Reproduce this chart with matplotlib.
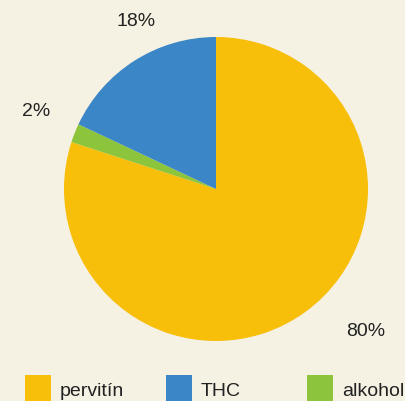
import matplotlib
matplotlib.use("Agg")
import matplotlib.pyplot as plt
from matplotlib.patches import Rectangle

LABELS = ["pervitín", "alkohol", "THC"]
SHARES = [80, 2, 18]
COLORS = ["#f7bf0a", "#8cc43c", "#3b86c6"]
PCT_TEXT = ["80%", "2%", "18%"]

LEGEND_ORDER = ["pervitín", "THC", "alkohol"]

BG = "#f5f1e3"
FONT = ["Liberation Sans Narrow", "Liberation Sans", "DejaVu Sans"]

W, H = 405, 402
fig = plt.figure(figsize=(W / 100, H / 100), dpi=100, facecolor=BG)
ax = fig.add_axes([0, 0, 1, 1])

# pie, clockwise from 12 o'clock
ax.pie(SHARES, colors=COLORS, startangle=90, counterclock=False,
       center=(216, H - 190), radius=152, frame=True,
       wedgeprops={"linewidth": 0})
ax.set_xlim(0, W)
ax.set_ylim(0, H)
ax.set_aspect("equal")
ax.axis("off")

label_pos = {"80%": (366, H - 332), "2%": (36, H - 112), "18%": (136, H - 22)}
for t in PCT_TEXT:
    x, y = label_pos[t]
    ax.text(x, y, t, ha="center", va="center", fontsize=14,
            color="#222222", family=FONT)

# legend (squares run off the bottom edge like in the print)
legend_x = {"pervitín": 25, "THC": 166, "alkohol": 307}
color_of = dict(zip(LABELS, COLORS))
for name in LEGEND_ORDER:
    x0 = legend_x[name]
    ax.add_patch(Rectangle((x0, -2), 26, 28, color=color_of[name], lw=0))
    ax.text(x0 + 35, H - 392, name, ha="left", va="center", fontsize=14,
            color="#222222", family=FONT)

fig.savefig("out.png", dpi=100, facecolor=BG)
